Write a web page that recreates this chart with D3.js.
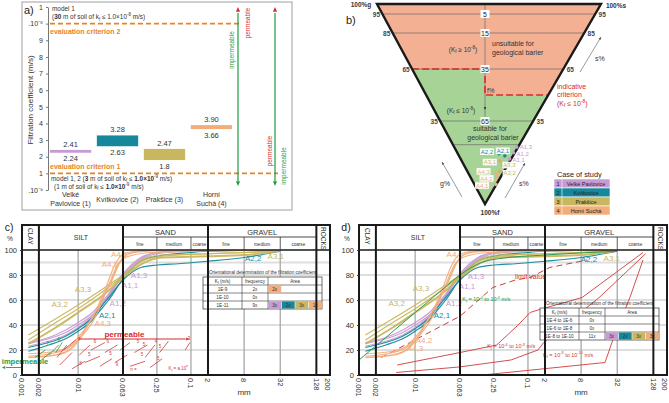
<!DOCTYPE html>
<html><head><meta charset="utf-8">
<script src="https://cdn.jsdelivr.net/npm/d3@7"></script>
<style>body{margin:0;background:#fff}svg{display:block}text{font-family:"Liberation Sans",Arial,sans-serif}</style>
</head><body><svg id="c" width="669" height="403"></svg>
<script>
// ---------------- DATA ----------------
const sites = ["Velké Pavlovice (1)","Kvítkovice (2)","Prakšice (3)","Horní Suchá (4)"];
const siteLabelLines = [["Velké","Pavlovice (1)"],["Kvítkovice (2)"],["Prakšice (3)"],["Horní","Suchá (4)"]];
const legendNames = ["Velké Pavlovice","Kvítkovice","Prakšice","Horní Suchá"];
const kMin = [2.24, 2.63, 1.8, 3.66];
const kMax = [2.41, 3.28, 2.47, 3.90];
const kMinLabels = ["2.24","2.63","1.8","3.66"];
const kMaxLabels = ["2.41","3.28","2.47","3.90"];
const siteColors = ["#c79bd3","#17889b","#c8b75e","#f2ad7b"];
const aTickVals = [0,1,2,3,4,5,6,7,8,9,10,11];
const aTickLabels = [".10⁻⁹","1","2","3","4","5","6","7","8","9",".10⁻⁸","1"];
const criterion1 = 1, criterion2 = 10;

// ternary (panel b)
const fLevels = [5,15,35,65,75];
const fLevelLabels = ["5","15","35","65",""];
const gSideLabels = ["95","85","65","35"];
const sSideLabels = ["95","85","65","35"];
const unsuitableLimitF = 35, indicativeF = 50;
const triIds = ["A1,3","A1,2","A1,1","A2,2","A2,1","A3,1","A3,3","A3,2","A4,3","A4,2","A4,1"];
const triSite = [0,0,0,1,1,2,2,2,3,3,3];
const triF = [76,78.4,81,78.8,79.7,81.9,83.6,86.2,87.5,88.8,91.8];
const triSRatio = [0.98,0.98,0.97,0.73,0.85,0.79,0.88,0.88,0.83,0.87,0.99];

// grain size curves (mm, % passing)
const gsTickVals = [0.001,0.002,0.01,0.063,0.25,1,2,8,32,128,200];
const gsTickLabels = ["0.001","0.002","0.01","0.063","0.25","0.1","2","8","32","128","200"];
const curveA11 = [[0.0013,25],[0.003,29],[0.006,34],[0.01,40],[0.018,48],[0.025,55],[0.035,63],[0.063,80],[0.13,93],[0.25,98],[1,100],[32,100]];
const curveA12 = [[0.0013,23],[0.003,27],[0.006,32],[0.01,38],[0.018,47],[0.025,55],[0.035,64],[0.063,79],[0.13,92],[0.25,97],[1,99],[32,100]];
const curveA13 = [[0.0013,26],[0.003,30],[0.006,36],[0.01,42],[0.018,50],[0.025,57],[0.035,65],[0.063,81],[0.13,94],[0.25,98],[1,100],[32,100]];
const curveA21 = [[0.0013,19],[0.003,24],[0.006,29],[0.01,35],[0.018,44],[0.025,52],[0.035,60],[0.063,77],[0.13,91],[0.25,95],[1,98],[2,99],[32,100]];
const curveA22 = [[0.0013,22],[0.003,26],[0.006,31],[0.01,37],[0.018,46],[0.025,54],[0.035,62],[0.063,76],[0.13,86],[0.25,88],[0.6,89],[2,91],[8,94],[32,99]];
const curveA31 = [[0.0013,25],[0.004,38],[0.01,50],[0.03,65],[0.063,78],[0.15,90],[0.3,94],[2,95],[8,96],[28,99]];
const curveA32 = [[0.0013,32],[0.004,45],[0.01,56],[0.03,70],[0.063,80],[0.15,92],[0.3,95],[2,97],[8,98],[32,100]];
const curveA33 = [[0.0013,28],[0.004,42],[0.01,53],[0.03,68],[0.063,79],[0.15,93],[0.3,96],[2,97],[32,99]];
const curveA41 = [[0.0013,17],[0.004,19],[0.007,23],[0.01,30],[0.02,50],[0.03,68],[0.045,88],[0.06,96],[0.1,99],[0.3,100],[32,100]];
const curveA42 = [[0.0013,15],[0.004,18],[0.007,22],[0.01,28],[0.02,46],[0.035,72],[0.05,88],[0.08,95],[0.2,98],[1,99],[32,100]];
const curveA43 = [[0.0013,14],[0.004,16],[0.007,20],[0.01,27],[0.015,40],[0.025,58],[0.04,76],[0.055,90],[0.08,97],[0.15,99],[0.5,100],[32,100]];
const curveGreenD = [[0.001,12],[0.003,30],[0.01,50],[0.03,68],[0.063,80],[0.15,90],[0.3,93],[2,96],[32,99]];
const sampleCurves = [curveA11,curveA12,curveA13,curveA21,curveA22,curveA31,curveA32,curveA33,curveA41,curveA42,curveA43];
const sampleIds = ["A1,1","A1,2","A1,3","A2,1","A2,2","A3,1","A3,2","A3,3","A4,1","A4,2","A4,3"];
const sampleSite = [0,0,0,1,1,2,2,2,3,3,3];
const sampleWidth = [1.2,1.2,1.2,1.2,1.2,2,1.2,1.2,1.2,1.2,1.6];
// label anchors (mm, %)
const labelsC = [["A4,1",0.054,97],["A4,2",0.037,89],["A3,3",0.0122,69],["A3,2",0.0047,57],["A1,3",0.121,80],["A1,1",0.084,72],["A1,2",0.051,58],["A2,1",0.033,48],["A4,3",0.0275,42],["A2,2",11.3,93.5],["A3,1",27,95]];
const labelsD = [["A4,1",0.051,97],["A3,3",0.0127,70],["A3,2",0.0047,57.5],["A1,3",0.121,79],["A1,1",0.084,71],["A1,2",0.049,58],["A2,1",0.030,48],["A4,2",0.0144,28],["A4,3",0.0099,21.5],["A2,2",10.8,93],["A3,1",26,94]];
const labelSiteC = [3,3,2,2,0,0,0,1,3,1,2];
const labelSiteD = [3,2,2,0,0,0,1,3,3,1,2];
// Kf = a·10^n short lines (panel c)
const kfSegsRed = [[0.0042,14,0.0063,24],[0.0047,8,0.0078,18],[0.0055,20,0.009,28],[0.0105,16,0.0163,24],[0.0078,5,0.0133,11],[0.0133,10,0.0245,15],[0.017,20,0.03,26],[0.0245,7,0.04,13],[0.03,18,0.05,24],[0.045,10,0.075,16],[0.056,20,0.084,26],[0.084,7,0.155,11],[0.1,18,0.17,24],[0.155,14,0.23,24],[0.19,6,0.31,13],[0.28,18,0.4,27],[0.79,20,0.96,26]];
const kfNumsRed = [["7",0.0098,27],["6",0.019,26],["6",0.032,25.5],["8",0.06,25.5],["5",0.11,25.5],["4",0.23,26],["5",0.14,23],["5",0.27,22],["3",0.88,28],["5",0.015,15],["5",0.036,16],["6",0.06,15],["8",0.0105,8],["9",0.047,7],["5",0.13,15],["5",0.25,12]];
const kfSegsGreen = [[0.0017,14,0.0026,20],[0.0022,12,0.0032,18],[0.0030,16,0.0045,24],[0.0040,18,0.0052,26]];
const kfNumsGreen = [["7",0.0027,24],["6",0.0043,27]];
// panel d limit lines
const limitValue = [[0.0025,14],[0.063,47],[0.24,70],[0.6,76],[1.09,78],[2.4,86],[10,92]];
const kfLineA = [[0.0048,8],[0.063,18],[0.28,24],[0.67,40],[1.09,50],[1.5,52],[8.3,62],[86,98]];
const kfLineB = [[0.0046,2],[0.063,6.5],[0.5,12],[1.5,20],[1.9,26],[16,62],[95,97]];
const kfLineC = [[0.16,0],[20,10],[27,28],[52,62],[86,92]];
// tables
const tabCKf = ["1E-9","1E-10","1E-11"], tabCFreq = ["2x","0x","9x"];
const tabCArea = [[[3,"2x"]],[],[[0,"3x"],[1,"2x"],[2,"3x"],[3,"1x"]]];
const tabDKf = ["1E-4 to 1E-6","1E-6 to 1E-8","1E-8 to 1E-10"], tabDFreq = ["0x","0x","11x"];
const tabDArea = [[],[],[[0,"3x"],[1,"2x"],[2,"3x"],[3,"3x"]]];

// ---------------- DRAW ----------------
const svg = d3.select("#c");
const RED = "#d52b2b", GREEN = "#1f9a40", ORANGE = "#e8822a", INK = "#333";
function rich(t, parts){
  let shift = 0;
  parts.forEach(([s, st]) => {
    const ts = t.append("tspan").text(s);
    const target = st === "sub" ? 1.6 : (st === "sup" ? -2.6 : 0);
    if (target - shift !== 0) ts.attr("dy", target - shift);
    shift = target;
    if (st === "sub" || st === "sup") ts.attr("font-size", "0.7em");
    if (st === "b") ts.attr("font-weight", "bold");
  });
  return t;
}
function arrowHead(g, x, y, dir, color, s){
  s = s || 4;
  let pts;
  if (dir === "up") pts = [[x,y],[x-s*0.7,y+s*1.6],[x+s*0.7,y+s*1.6]];
  else if (dir === "down") pts = [[x,y],[x-s*0.7,y-s*1.6],[x+s*0.7,y-s*1.6]];
  else if (dir === "right") pts = [[x,y],[x-s*1.6,y-s*0.7],[x-s*1.6,y+s*0.7]];
  else pts = [[x,y],[x+s*1.6,y-s*0.7],[x+s*1.6,y+s*0.7]];
  g.append("path").attr("d", "M" + pts.join("L") + "Z").attr("fill", color);
}

// ===== Panel a =====
(function(){
  const A = svg.append("g");
  A.append("rect").attr("x",22).attr("y",2).attr("width",270).attr("height",208).attr("fill","none").attr("stroke","#a0a0a0");
  A.append("text").attr("x",24).attr("y",14).attr("font-size",11).attr("fill","#222").text("a)");
  const y = d3.scaleLinear().domain([0,11]).range([190,7]);
  const x = d3.scaleBand().domain(sites).range([48,234]).paddingInner(0.12).paddingOuter(0.04);
  const ax = A.append("g").attr("transform","translate(48,0)")
    .call(d3.axisLeft(y).tickValues(aTickVals).tickFormat((d,i)=>aTickLabels[i]).tickSize(2).tickSizeOuter(0));
  ax.selectAll("text").attr("font-size",7).attr("fill",INK).attr("font-family","Liberation Sans, Arial");
  ax.selectAll("line,path").attr("stroke","#777");
  A.append("text").attr("transform","translate(33,100) rotate(-90)").attr("text-anchor","middle")
    .attr("font-size",8).attr("fill",INK).text("Filtration coefficient  (m/s)");
  // criteria
  A.append("line").attr("x1",50).attr("x2",240).attr("y1",y(criterion2)).attr("y2",y(criterion2))
    .attr("stroke",ORANGE).attr("stroke-width",1.6).attr("stroke-dasharray","5,3");
  A.append("line").attr("x1",50).attr("x2",278).attr("y1",y(criterion1)).attr("y2",y(criterion1))
    .attr("stroke",ORANGE).attr("stroke-width",1.6).attr("stroke-dasharray","5,3");
  A.append("text").attr("x",50).attr("y",34).attr("font-size",7).attr("font-weight","bold").attr("fill",ORANGE).text("evaluation criterion 2");
  A.append("text").attr("x",50).attr("y",168.5).attr("font-size",7).attr("font-weight","bold").attr("fill",ORANGE).text("evaluation criterion 1");
  A.append("text").attr("x",52).attr("y",10.5).attr("font-size",6.4).attr("fill",INK).text("model 1");
  rich(A.append("text").attr("x",52).attr("y",19).attr("font-size",6.4).attr("fill",INK),
    [["(",""],["30","b"],[" m of soil of k",""],["f","sub"],[" ≤ ",""],["1.0×10",""],["-8","sup"],[" m/s)",""]]);
  rich(A.append("text").attr("x",51).attr("y",180.5).attr("font-size",6.4).attr("fill",INK),
    [["model 1, 2 (",""],["3","b"],[" m of soil of k",""],["f","sub"],[" ≤ ",""],["1.0×10","b"],["-9","sup"],[" m/s)",""]]);
  rich(A.append("text").attr("x",54).attr("y",188.5).attr("font-size",6.4).attr("fill",INK),
    [["(1 m of soil of k",""],["f","sub"],[" ≤ ",""],["1.0×10","b"],["-9","sup"],[" m/s)",""]]);
  // bars
  A.selectAll("rect.bar").data(sites).join("rect").attr("class","bar")
    .attr("x",d=>x(d)).attr("width",x.bandwidth())
    .attr("y",(d,i)=>y(kMax[i])).attr("height",(d,i)=>y(kMin[i])-y(kMax[i]))
    .attr("fill",(d,i)=>siteColors[i]);
  A.selectAll("text.vmax").data(sites).join("text").attr("class","vmax")
    .attr("x",d=>x(d)+x.bandwidth()/2).attr("y",(d,i)=>y(kMax[i])-3).attr("text-anchor","middle")
    .attr("font-size",7.5).attr("fill",INK).text((d,i)=>kMaxLabels[i]);
  A.selectAll("text.vmin").data(sites).join("text").attr("class","vmin")
    .attr("x",d=>x(d)+x.bandwidth()/2).attr("y",(d,i)=>y(kMin[i])+8.5).attr("text-anchor","middle")
    .attr("font-size",7.5).attr("fill",INK).text((d,i)=>kMinLabels[i]);
  // category labels
  sites.forEach((s,i)=>{
    const lines = siteLabelLines[i];
    lines.forEach((l,j)=>{
      const yy = lines.length === 1 ? 201.5 : 196.5 + j*9;
      A.append("text").attr("x",x(s)+x.bandwidth()/2).attr("y",yy).attr("text-anchor","middle")
        .attr("font-size",7).attr("fill",INK).text(l);
    });
  });
  // arrows
  [[238,"top"],[275,"bottom"]].forEach(([ax0])=>{
    A.append("line").attr("x1",ax0).attr("x2",ax0).attr("y1",13).attr("y2",181).attr("stroke",GREEN).attr("stroke-width",1.2);
    arrowHead(A, ax0, 7, "up", RED, 3);
    arrowHead(A, ax0, 186, "down", GREEN, 3);
  });
  A.append("text").attr("transform","translate(234,50) rotate(-90)").attr("text-anchor","middle").attr("font-size",6.5).attr("fill",GREEN).text("impermeable");
  A.append("text").attr("transform","translate(250,23) rotate(-90)").attr("text-anchor","middle").attr("font-size",6.5).attr("fill",RED).text("permeable");
  A.append("text").attr("transform","translate(272,151) rotate(-90)").attr("text-anchor","middle").attr("font-size",6.5).attr("fill",RED).text("permeable");
  A.append("text").attr("transform","translate(286,166) rotate(-90)").attr("text-anchor","middle").attr("font-size",6.5).attr("fill",GREEN).text("impermeable");
})();

// ===== Panel b =====
(function(){
  const B = svg.append("g");
  const TL=[377,4], TR=[601,4], BV=[485,204];
  const fy = d3.scaleLinear().domain([0,5,15,35,65,100]).range([4,14,33,69,121,204]);
  const xL = yy => TL[0] + (yy-TL[1])/(BV[1]-TL[1])*(BV[0]-TL[0]);
  const xR = yy => TR[0] + (yy-TR[1])/(BV[1]-TR[1])*(BV[0]-TR[0]);
  const cx = BV[0];
  const y35 = fy(unsuitableLimitF), y50 = fy(indicativeF);
  const line = d3.line();
  B.append("path").attr("d", line([TL,TR,[xR(y50),y50],[cx,y50],[cx,y35],[xL(y35),y35]])+"Z").attr("fill","#f4b092");
  B.append("path").attr("d", line([[xL(y35),y35],[cx,y35],[cx,y50],[xR(y50),y50],BV])+"Z").attr("fill","#a8d396");
  B.selectAll("line.lev").data(fLevels).join("line").attr("class","lev")
    .attr("x1",d=>xL(fy(d))).attr("x2",d=>xR(fy(d))).attr("y1",d=>fy(d)).attr("y2",d=>fy(d))
    .attr("stroke","#6a6a6a").attr("stroke-width",0.7);
  B.append("line").attr("x1",cx).attr("x2",cx).attr("y1",TL[1]).attr("y2",fy(65)).attr("stroke","#6a6a6a").attr("stroke-width",0.7);
  B.append("path").attr("d", line([[xL(y35),y35],[cx,y35],[cx,y50],[xR(y50),y50]]))
    .attr("fill","none").attr("stroke",RED).attr("stroke-width",1.6).attr("stroke-dasharray","7,3");
  B.append("path").attr("d", line([TL,TR,BV])+"Z").attr("fill","none").attr("stroke","#1a1a1a").attr("stroke-width",2.4).attr("stroke-linejoin","miter");
  // center labels
  fLevels.forEach((f,i)=>{
    if(!fLevelLabels[i]) return;
    const yy = fy(f);
    B.append("rect").attr("x",cx-4.5).attr("y",yy-4).attr("width",9).attr("height",8).attr("fill","#fff");
    B.append("text").attr("x",cx).attr("y",yy+2.6).attr("text-anchor","middle").attr("font-size",7).attr("fill","#222").text(fLevelLabels[i]);
  });
  // side labels
  const sideF = [5,15,35,65];
  sideF.forEach((f,i)=>{
    const yy = fy(f)+2.6;
    B.append("text").attr("x",xL(fy(f))-6).attr("y",yy).attr("text-anchor","middle").attr("font-size",6.5).attr("font-weight","bold").attr("fill","#444").text(gSideLabels[i]);
    B.append("text").attr("x",xR(fy(f))+7).attr("y",yy).attr("text-anchor","middle").attr("font-size",6.5).attr("font-weight","bold").attr("fill","#444").text(sSideLabels[i]);
  });
  B.append("text").attr("x",361).attr("y",7).attr("text-anchor","middle").attr("font-size",6.5).attr("font-weight","bold").attr("fill","#333").text("100%g");
  B.append("text").attr("x",616).attr("y",7.5).attr("text-anchor","middle").attr("font-size",6.5).attr("font-weight","bold").attr("fill","#333").text("100%s");
  B.append("text").attr("x",490).attr("y",214.5).attr("text-anchor","middle").attr("font-size",6.5).attr("font-weight","bold").attr("fill","#333").text("100%f");
  B.append("text").attr("x",346).attr("y",24).attr("font-size",11).attr("fill","#222").text("b)");
  // texts
  B.append("text").attr("x",492).attr("y",45.5).attr("font-size",7).attr("fill","#333").text("unsuitable for");
  B.append("text").attr("x",492).attr("y",54.5).attr("font-size",7).attr("fill","#333").text("geological barier");
  rich(B.append("text").attr("x",463).attr("y",51.5).attr("text-anchor","middle").attr("font-size",6.5).attr("fill","#333"),
    [["(K",""],["f","sub"],[" ≥ 10",""],["-8","sup"],[")",""]]);
  rich(B.append("text").attr("x",461).attr("y",112.5).attr("text-anchor","middle").attr("font-size",6.5).attr("fill","#333"),
    [["(K",""],["f","sub"],[" ≤ 10",""],["-8","sup"],[")",""]]);
  B.append("text").attr("x",487).attr("y",93).attr("font-size",6.5).attr("fill","#333").text("f%");
  arrowHead(B, cx, 110, "down", "#333", 1.8);
  B.append("text").attr("x",490).attr("y",131).attr("text-anchor","middle").attr("font-size",7).attr("fill","#333").text("suitable for");
  B.append("text").attr("x",493).attr("y",140).attr("text-anchor","middle").attr("font-size",7).attr("fill","#333").text("geological barier");
  B.append("text").attr("x",557).attr("y",88.5).attr("font-size",7).attr("fill",RED).text("indicative");
  B.append("text").attr("x",557).attr("y",97).attr("font-size",7).attr("fill",RED).text("criterion");
  rich(B.append("text").attr("x",557).attr("y",105.5).attr("font-size",7).attr("fill",RED),
    [["(K",""],["f","sub"],[" ≤ 10",""],["-8","sup"],[")",""]]);
  // direction arrows
  const arr = (x1,y1,x2,y2)=>{ B.append("line").attr("x1",x1).attr("y1",y1).attr("x2",x2).attr("y2",y2).attr("stroke","#555").attr("stroke-width",0.6);
    const a = Math.atan2(y2-y1,x2-x1), s=3;
    B.append("path").attr("d",`M${x2},${y2}L${x2-s*Math.cos(a-0.4)},${y2-s*Math.sin(a-0.4)}L${x2-s*Math.cos(a+0.4)},${y2-s*Math.sin(a+0.4)}Z`).attr("fill","#555"); };
  arr(580,72,601,37); arr(462,197,442,162); arr(505,198,525,163);
  B.append("text").attr("x",595).attr("y",61).attr("font-size",7).attr("fill","#333").text("s%");
  B.append("text").attr("x",440).attr("y",186).attr("font-size",7).attr("fill","#333").text("g%");
  B.append("text").attr("x",519).attr("y",185.5).attr("font-size",7).attr("fill","#333").text("s%");
  // points
  const labOff = {"A1,3":[3,0,"start",false],"A1,2":[3,1,"start",false],"A1,1":[3,1,"start",false],
    "A2,2":[-12,-2,"middle",true],"A2,1":[-2,-5,"middle",true],"A3,1":[-10,1,"middle",true],"A3,3":[7,0,"middle",true],
    "A3,2":[10,2,"middle",true],"A4,3":[-13,-3,"middle",true],"A4,2":[-10,1,"middle",true],"A4,1":[-14,1,"middle",true]};
  triIds.forEach((id,i)=>{
    const yy = fy(triF[i]); const xx = xL(yy) + (xR(yy)-xL(yy))*triSRatio[i];
    B.append("circle").attr("cx",xx).attr("cy",yy).attr("r",1.8).attr("fill",siteColors[triSite[i]]);
  });
  triIds.forEach((id,i)=>{
    const yy = fy(triF[i]); const xx = xL(yy) + (xR(yy)-xL(yy))*triSRatio[i];
    const o = labOff[id];
    if (o[3]) B.append("rect").attr("x",xx+o[0]-7).attr("y",yy+o[1]-3.3).attr("width",14).attr("height",6.6).attr("fill","#fff").attr("opacity",0.95);
    B.append("text").attr("x",xx+o[0]).attr("y",yy+o[1]+2.2).attr("text-anchor",o[2]).attr("font-size",6).attr("fill",siteColors[triSite[i]]).text(id);
  });
  // legend
  B.append("text").attr("x",557).attr("y",177).attr("font-size",7.3).attr("fill","#222").text("Case of study");
  legendNames.forEach((n,i)=>{
    const yy = 179 + i*9;
    B.append("rect").attr("x",554).attr("y",yy).attr("width",56).attr("height",9).attr("fill",siteColors[i]).attr("stroke","#fff").attr("stroke-width",0.6);
    B.append("line").attr("x1",562).attr("x2",562).attr("y1",yy).attr("y2",yy+9).attr("stroke","#fff").attr("stroke-width",0.6);
    B.append("text").attr("x",558).attr("y",yy+6.5).attr("text-anchor","middle").attr("font-size",5.5).attr("fill","#222").text(i+1);
    B.append("text").attr("x",586).attr("y",yy+6.5).attr("text-anchor","middle").attr("font-size",5.5).attr("fill","#222").text(n);
  });
})();

// ===== Panels c, d =====
function grain(x0, panel){
  const G = svg.append("g");
  const x = d3.scaleLog().domain([0.001,0.063,2,200]).range([x0,x0+101,x0+186,x0+306]);
  const y = d3.scaleLinear().domain([0,100]).range([375,250]);
  const top=225, h1=237, h2=250, bot=375, right=x0+308;
  const clipId = "clip"+panel;
  G.append("clipPath").attr("id",clipId).append("rect").attr("x",x0).attr("y",h2).attr("width",right-x0).attr("height",bot-h2);
  // grid
  G.selectAll("line.hg").data([20,40,60,80]).join("line").attr("x1",x0).attr("x2",right).attr("y1",d=>y(d)).attr("y2",d=>y(d)).attr("stroke","#b5b5b5").attr("stroke-width",0.9);
  G.append("line").attr("x1",x0).attr("x2",right).attr("y1",y(90)).attr("y2",y(90)).attr("stroke","#dedede").attr("stroke-width",2.2);
  G.selectAll("line.vg").data([0.01,0.25,1,8,32]).join("line").attr("x1",d=>x(d)).attr("x2",d=>x(d)).attr("y1",h2).attr("y2",bot).attr("stroke","#a8a8a8").attr("stroke-width",1.3);
  const P = G.append("g").attr("clip-path",`url(#${clipId})`);
  const ln = d3.line().x(d=>x(d[0])).y(d=>y(d[1])).curve(d3.curveMonotoneX);
  const lnStraight = d3.line().x(d=>x(d[0])).y(d=>y(d[1]));
  if (panel === "d") {
    [kfLineA,kfLineB,kfLineC].forEach(c=>P.append("path").attr("d",lnStraight(c)).attr("fill","none").attr("stroke","#d03a3a").attr("stroke-width",0.9));
    P.append("path").attr("d",lnStraight(limitValue)).attr("fill","none").attr("stroke","#d03a3a").attr("stroke-width",1).attr("stroke-dasharray","6,4");
  }
  sampleCurves.forEach((c,i)=>{
    P.append("path").attr("d",ln(c)).attr("fill","none").attr("stroke",siteColors[sampleSite[i]]).attr("stroke-width",sampleWidth[i]).attr("opacity",0.95);
  });
  if (panel === "d") P.append("path").attr("d",ln(curveGreenD)).attr("fill","none").attr("stroke","#2e9e55").attr("stroke-width",1);
  if (panel === "c") {
    kfSegsRed.forEach(s=>P.append("line").attr("x1",x(s[0])).attr("y1",y(s[1])).attr("x2",x(s[2])).attr("y2",y(s[3])).attr("stroke","#d03a3a").attr("stroke-width",0.8));
    kfNumsRed.forEach(n=>P.append("text").attr("x",x(n[1])).attr("y",y(n[2])).attr("font-size",4.5).attr("fill","#d03a3a").text(n[0]));
    kfSegsGreen.forEach(s=>P.append("line").attr("x1",x(s[0])).attr("y1",y(s[1])).attr("x2",x(s[2])).attr("y2",y(s[3])).attr("stroke",GREEN).attr("stroke-width",0.8));
    kfNumsGreen.forEach(n=>P.append("text").attr("x",x(n[1])).attr("y",y(n[2])).attr("font-size",4.5).attr("fill",GREEN).text(n[0]));
    P.append("text").attr("x",x(0.085)).attr("y",y(3)).attr("font-size",4.5).attr("fill","#d03a3a").text("n =");
    rich(P.append("text").attr("x",x(0.4)).attr("y",y(4)).attr("font-size",4.5).attr("fill","#d03a3a"),[["K",""],["f","sub"],[" = a.10",""],["n","sup"]]);
    // permeable arrow
    G.append("line").attr("x1",x(0.01)).attr("x2",x(0.95)-4).attr("y1",339).attr("y2",339).attr("stroke",RED).attr("stroke-width",1);
    arrowHead(G, x(0.95), 339, "right", RED, 2.2);
    G.append("text").attr("x",124.5).attr("y",336.5).attr("text-anchor","middle").attr("font-size",8).attr("font-weight","bold").attr("fill",RED).text("permeable");
    G.append("text").attr("x",25).attr("y",364).attr("text-anchor","middle").attr("font-size",7.5).attr("font-weight","bold").attr("fill",GREEN).text("impermeable");
    G.append("line").attr("x1",6).attr("x2",22).attr("y1",367.5).attr("y2",367.5).attr("stroke",GREEN).attr("stroke-width",0.9);
    arrowHead(G, 2, 367.5, "left", GREEN, 2);
  } else {
    P.append("text").attr("x",x(0.59)).attr("y",y(77)).attr("font-size",7).attr("fill","#d03a3a").text("limit value");
    rich(P.append("text").attr("x",x(0.069)).attr("y",y(59)).attr("font-size",5.5).attr("fill",GREEN),[["K",""],["f","sub"],[" = 10",""],["-4","sup"],[" to 10",""],["-6","sup"],[" m/s",""]]);
    rich(P.append("text").attr("x",x(0.19)).attr("y",y(21.5)).attr("font-size",5.5).attr("fill","#d03a3a"),[["K",""],["f","sub"],[" = 10",""],["-6","sup"],[" to 10",""],["-8","sup"],[" m/s",""]]);
    rich(P.append("text").attr("x",x(1.85)).attr("y",y(14.5)).attr("font-size",5.5).attr("fill","#d03a3a"),[["K",""],["f","sub"],[" = 10",""],["-8","sup"],[" to 10",""],["-10","sup"],[" m/s",""]]);
  }
  // sample labels
  const labs = panel === "c" ? labelsC : labelsD;
  const labSite = panel === "c" ? labelSiteC : labelSiteD;
  labs.forEach((l,i)=>{
    G.append("text").attr("x",x(l[1])).attr("y",y(l[2])+3).attr("text-anchor","middle").attr("font-size",8).attr("fill",siteColors[labSite[i]]).text(l[0]);
  });
  // table
  const tx = x0+181, ty = panel==="c" ? 277 : 308, rh = 8, cw = [39,26,54];
  const kf = panel==="c"?tabCKf:tabDKf, fr = panel==="c"?tabCFreq:tabDFreq, ar = panel==="c"?tabCArea:tabDArea;
  const T = G.append("g");
  T.append("text").attr("x",tx+59.5).attr("y",ty-3).attr("text-anchor","middle").attr("font-size",4.6).attr("fill","#333").text("Orientational determination of the filtration coefficient");
  T.append("rect").attr("x",tx).attr("y",ty).attr("width",119).attr("height",rh*4).attr("fill","#fff").attr("stroke","#333").attr("stroke-width",0.7);
  for(let r=1;r<4;r++) T.append("line").attr("x1",tx).attr("x2",tx+119).attr("y1",ty+r*rh).attr("y2",ty+r*rh).attr("stroke","#333").attr("stroke-width",0.6);
  [cw[0],cw[0]+cw[1]].forEach(c=>T.append("line").attr("x1",tx+c).attr("x2",tx+c).attr("y1",ty).attr("y2",ty+rh*4).attr("stroke","#333").attr("stroke-width",0.6));
  const hdr = T.append("text").attr("x",tx+cw[0]/2).attr("y",ty+5.6).attr("text-anchor","middle").attr("font-size",4.6).attr("fill","#333");
  rich(hdr,[["K",""],["f","sub"],[" (m/s)",""]]);
  T.append("text").attr("x",tx+cw[0]+cw[1]/2).attr("y",ty+5.6).attr("text-anchor","middle").attr("font-size",4.6).attr("fill","#333").text("frequency");
  T.append("text").attr("x",tx+cw[0]+cw[1]+cw[2]/2).attr("y",ty+5.6).attr("text-anchor","middle").attr("font-size",4.6).attr("fill","#333").text("Area");
  kf.forEach((k,i)=>{
    const yy = ty+(i+1)*rh;
    T.append("text").attr("x",tx+cw[0]/2).attr("y",yy+5.6).attr("text-anchor","middle").attr("font-size",4.6).attr("fill","#333").text(k);
    T.append("text").attr("x",tx+cw[0]+cw[1]/2).attr("y",yy+5.6).attr("text-anchor","middle").attr("font-size",4.6).attr("fill","#333").text(fr[i]);
    ar[i].forEach((a,j)=>{
      const xx = tx+cw[0]+cw[1]+j*13.5;
      T.append("rect").attr("x",xx+0.3).attr("y",yy+0.4).attr("width",12.9).attr("height",rh-0.8).attr("fill",siteColors[a[0]]);
      T.append("text").attr("x",xx+6.75).attr("y",yy+5.6).attr("text-anchor","middle").attr("font-size",4.6).attr("fill","#333").text(a[1]);
    });
  });
  // header & frame
  G.append("line").attr("x1",x0).attr("x2",right).attr("y1",h2).attr("y2",h2).attr("stroke","#1a1a1a").attr("stroke-width",1.5);
  G.append("line").attr("x1",x(0.063)).attr("x2",x(128)).attr("y1",h1).attr("y2",h1).attr("stroke","#1a1a1a").attr("stroke-width",0.8);
  G.selectAll("line.sub").data([0.25,1,8,32]).join("line").attr("x1",d=>x(d)).attr("x2",d=>x(d)).attr("y1",h1).attr("y2",h2).attr("stroke","#333").attr("stroke-width",0.8);
  G.selectAll("line.major").data([0.002,0.063,2,128]).join("line").attr("x1",d=>x(d)).attr("x2",d=>x(d)).attr("y1",top).attr("y2",bot).attr("stroke","#1a1a1a").attr("stroke-width",2);
  G.append("rect").attr("x",x0).attr("y",top).attr("width",right-x0).attr("height",bot-top).attr("fill","none").attr("stroke","#1a1a1a").attr("stroke-width",2);
  const rot = (xx,yy,t,fs)=>G.append("text").attr("transform",`translate(${xx},${yy}) rotate(90)`).attr("dy","0.35em").attr("font-size",fs).attr("fill","#333").text(t);
  rot((x0+x(0.002))/2, 228, "CLAY", 6.5);
  rot((x(128)+right)/2, 227, "ROCKS", 6.5);
  G.append("text").attr("x",(x(0.002)+x(0.063))/2).attr("y",240).attr("text-anchor","middle").attr("font-size",7).attr("fill","#333").text("SILT");
  G.append("text").attr("x",(x(0.063)+x(2))/2).attr("y",234.5).attr("text-anchor","middle").attr("font-size",7.5).attr("fill","#333").text("SAND");
  G.append("text").attr("x",(x(2)+x(128))/2).attr("y",234.5).attr("text-anchor","middle").attr("font-size",7.5).attr("fill","#333").text("GRAVEL");
  const subs = [[0.063,0.25,"fine"],[0.25,1,"medium"],[1,2,"coarse"],[2,8,"fine"],[8,32,"medium"],[32,128,"coarse"]];
  subs.forEach(s=>G.append("text").attr("x",(x(s[0])+x(s[1]))/2).attr("y",245.5).attr("text-anchor","middle").attr("font-size",4.6).attr("fill","#333").text(s[2]));
  // axes
  const ya = G.append("g").attr("transform",`translate(${x0},0)`).call(d3.axisLeft(y).tickValues([0,20,40,60,80,100]).tickSize(2));
  ya.select(".domain").remove();
  ya.selectAll("text").attr("font-size",7.5).attr("fill","#333").attr("font-family","Liberation Sans, Arial");
  ya.selectAll("line").attr("stroke","#333");
  G.append("text").attr("x",x0-12).attr("y",241).attr("text-anchor","middle").attr("font-size",6.5).attr("fill","#333").text("%");
  G.append("text").attr("x",x0-13).attr("y",231).attr("text-anchor","middle").attr("font-size",10.5).attr("fill","#222").text(panel+")");
  gsTickVals.forEach((v,i)=>rot(x(v), 378, gsTickLabels[i], 7.5));
  G.append("text").attr("x",x(8)).attr("y",395).attr("text-anchor","middle").attr("font-size",8).attr("fill","#333").text("mm");
}
grain(22,"c");
grain(359,"d");
</script></body></html>
